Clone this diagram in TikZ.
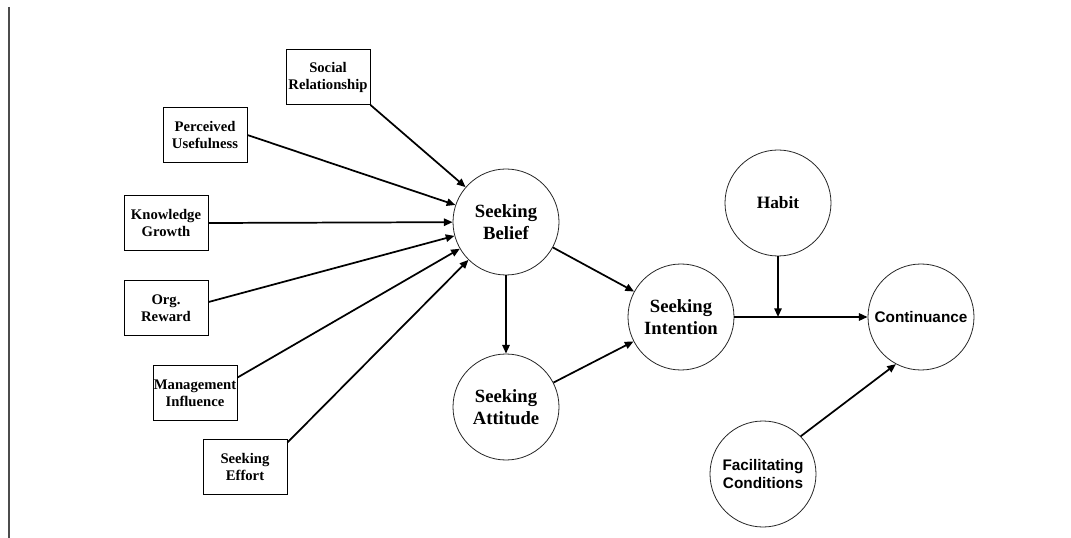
\documentclass[tikz,border=0pt]{standalone}
\usepackage{fontspec}
\setmainfont{Liberation Serif}
\newfontfamily\arialish{Liberation Sans}
\usetikzlibrary{arrows.meta}
\begin{document}
\begin{tikzpicture}[x=0.75pt,y=-0.75pt,
  factor/.style={draw=black,line width=0.7pt,minimum width=63pt,minimum height=41.25pt,
    inner sep=0pt,align=center,font=\bfseries\fontsize{11}{12.75}\selectfont},
  construct/.style={circle,draw=black!85,line width=0.6pt,minimum size=79.5pt,inner sep=0pt,
    align=center,font=\bfseries\fontsize{14}{17}\selectfont},
  sansconstruct/.style={construct,font=\arialish\bfseries\fontsize{11.5}{13}\selectfont},
  arr/.style={line width=1.3pt,-{Triangle[length=6.5pt,width=5.5pt]}}]
\useasboundingbox (0,0) rectangle (1071,538);
% frame rule at the left edge
\draw[black!70,line width=1.5pt] (9,7) -- (9,538);

% antecedent factors
\node[factor] (social) at (328,77)  {Social\\Relationship};
\node[factor] (perc)   at (205,135) {Perceived\\Usefulness};
\node[factor] (know)   at (166,223) {Knowledge\\Growth};
\node[factor] (org)    at (166,308) {Org.\\Reward};
\node[factor] (mgmt)   at (195,393) {Management\\Influence};
\node[factor] (effort) at (245,467) {Seeking\\Effort};

% constructs
\node[construct] (belief)    at (506,222) {Seeking\\Belief};
\node[construct] (attitude)  at (506,407) {Seeking\\Attitude};
\node[construct] (intention) at (681,317) {Seeking\\Intention};
\node[construct,font=\bfseries\fontsize{13}{16}\selectfont] (habit) at (778,203) {\raisebox{-3pt}{Habit}};
\node[sansconstruct] (cont) at (921,317) {Continuance};
\node[sansconstruct] (fac)  at (763,474) {Facilitating\\Conditions};

% paths into seeking belief
\draw[arr] (social.south east) -- (belief);
\draw[arr] (perc.east) -- (belief);
\draw[arr] (know.east) -- (belief);
\draw[arr] (org.8) -- (belief);
\draw[arr] (mgmt.20) -- (belief);
\draw[arr] (effort.30) -- (belief);

% structural paths
\draw[arr] (belief) -- (attitude);
\draw[arr] (belief) -- (intention);
\draw[arr] (attitude) -- (intention);
\draw[arr] (intention) -- (cont);
\coordinate (join) at (habit |- intention);
\draw[arr] (habit) -- (join);
\draw[arr] (fac.45) -- (cont.242);
\end{tikzpicture}
\end{document}
